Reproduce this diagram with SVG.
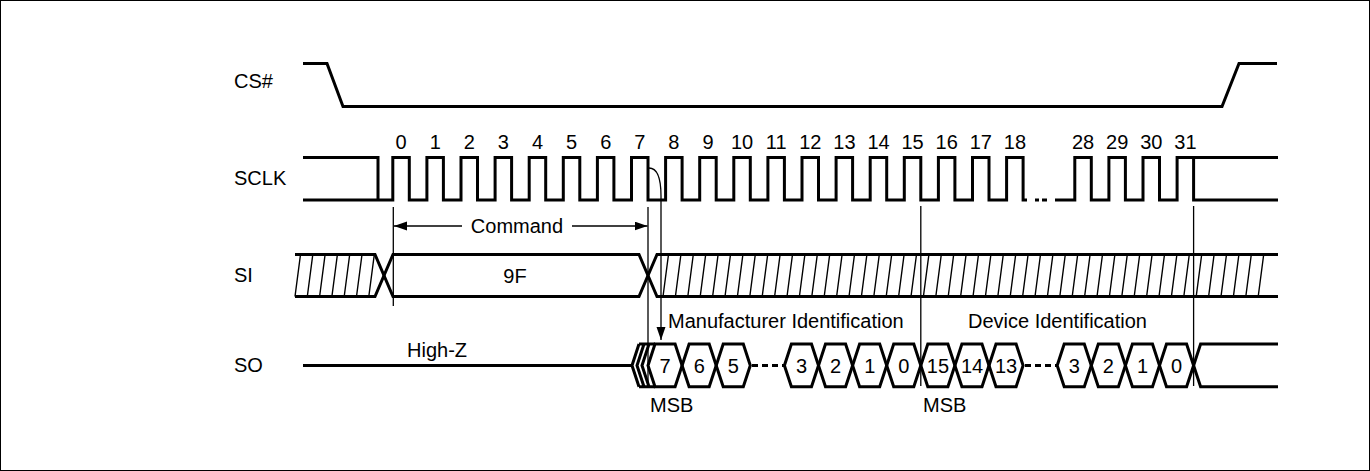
<svg xmlns="http://www.w3.org/2000/svg" width="1370" height="471" viewBox="0 0 1370 471">
<style>
text{font-family:"Liberation Sans",Arial,sans-serif;font-size:20px;fill:#000}
.c{text-anchor:middle}
.n{font-size:19px}
.w{fill:none;stroke:#000;stroke-width:3;stroke-linejoin:miter}
.t{fill:none;stroke:#000;stroke-width:1.3}
.h{fill:none;stroke:#000;stroke-width:1.4}
.hex{fill:none;stroke:#000;stroke-width:3;stroke-linejoin:miter}
.d{fill:none;stroke:#000;stroke-width:3;stroke-dasharray:6 4}
</style>
<defs>
<marker id="ah" markerUnits="userSpaceOnUse" markerWidth="14" markerHeight="10" refX="13" refY="4.5" orient="auto">
<path d="M0,0 L13,4.5 L0,9 z" fill="#000"/>
</marker>
</defs>
<rect x="0.5" y="0.5" width="1369" height="470" fill="#fff" stroke="#000" stroke-width="1"/>

<g id="labels">
<text x="234" y="88">CS#</text>
<text x="234" y="185">SCLK</text>
<text x="234" y="282">SI</text>
<text x="234" y="372">SO</text>
</g>

<g id="cs">
<path class="w" d="M303 63.5 H327 L343 106.5 H1222 L1239 63.5 H1277"/>
</g>

<g id="sclk">
<path class="w" d="M303 157.5 H378 V200"/>
<path class="w" d="M303 200 H392.8 V157.5 H409.3 V200 H426.9 V157.5 H443.4 V200 H461 V157.5 H477.5 V200 H495.1 V157.5 H511.6 V200 H529.2 V157.5 H545.7 V200 H563.3 V157.5 H579.8 V200 H597.4 V157.5 H613.9 V200 H631.5 V157.5 H648 V200 H665.6 V157.5 H682.1 V200 H699.7 V157.5 H716.2 V200 H733.8 V157.5 H750.3 V200 H767.9 V157.5 H784.4 V200 H802 V157.5 H818.5 V200 H836.1 V157.5 H852.6 V200 H870.2 V157.5 H886.7 V200 H904.3 V157.5 H920.8 V200 H938.4 V157.5 H954.9 V200 H972.5 V157.5 H989 V200 H1006.6 V157.5 H1023.1 V200 H1027"/>
<path class="w" d="M1035 200 H1039 M1042 200 H1047"/>
<path class="w" d="M1055 200 H1074.8 V157.5 H1091.3 V200 H1108.9 V157.5 H1125.4 V200 H1143 V157.5 H1159.5 V200 H1177.1 V157.5 H1193.6 V200 H1278"/>
<path class="w" d="M1193.6 157.5 H1278"/>
<g class="c n">
<text x="401" y="149">0</text><text x="435.2" y="149">1</text><text x="469.3" y="149">2</text><text x="503.4" y="149">3</text>
<text x="537.5" y="149">4</text><text x="571.6" y="149">5</text><text x="605.7" y="149">6</text><text x="639.8" y="149">7</text>
<text x="673.9" y="149">8</text><text x="708" y="149">9</text><text x="742" y="149">10</text><text x="776.2" y="149">11</text>
<text x="810.3" y="149">12</text><text x="844.4" y="149">13</text><text x="878.5" y="149">14</text><text x="912.6" y="149">15</text>
<text x="946.7" y="149">16</text><text x="980.8" y="149">17</text><text x="1014.9" y="149">18</text>
<text x="1083" y="149">28</text><text x="1117.2" y="149">29</text><text x="1151.3" y="149">30</text><text x="1185.4" y="149">31</text>
</g>
</g>

<g id="si">
<path class="w" d="M295 254.5 H375 L393 296.5 H639 L657 254.5 H1278"/>
<path class="w" d="M295 296.5 H375 L393 254.5 H639 L657 296.5 H1278"/>
<path class="h" d="M295 296.5 L300.5 254.5 M307.3 296.5 L312.8 254.5 M319.6 296.5 L325.1 254.5 M331.9 296.5 L337.4 254.5 M344.2 296.5 L349.7 254.5 M356.5 296.5 L362 254.5 M368.8 296.5 L374.3 254.5"/>
<path class="h" d="M663 296.5 l5.5 -42 M675.4 296.5 l5.5 -42 M687.8 296.5 l5.5 -42 M700.2 296.5 l5.5 -42 M712.6 296.5 l5.5 -42 M725 296.5 l5.5 -42 M737.4 296.5 l5.5 -42 M749.8 296.5 l5.5 -42 M762.2 296.5 l5.5 -42 M774.6 296.5 l5.5 -42 M787 296.5 l5.5 -42 M799.4 296.5 l5.5 -42 M811.8 296.5 l5.5 -42 M824.2 296.5 l5.5 -42 M836.6 296.5 l5.5 -42 M849 296.5 l5.5 -42 M861.4 296.5 l5.5 -42 M873.8 296.5 l5.5 -42 M886.2 296.5 l5.5 -42 M898.6 296.5 l5.5 -42 M911 296.5 l5.5 -42 M923.4 296.5 l5.5 -42 M935.8 296.5 l5.5 -42 M948.2 296.5 l5.5 -42 M960.6 296.5 l5.5 -42 M973 296.5 l5.5 -42 M985.4 296.5 l5.5 -42 M997.8 296.5 l5.5 -42 M1010.2 296.5 l5.5 -42 M1022.6 296.5 l5.5 -42 M1035 296.5 l5.5 -42 M1047.4 296.5 l5.5 -42 M1059.8 296.5 l5.5 -42 M1072.2 296.5 l5.5 -42 M1084.6 296.5 l5.5 -42 M1097 296.5 l5.5 -42 M1109.4 296.5 l5.5 -42 M1121.8 296.5 l5.5 -42 M1134.2 296.5 l5.5 -42 M1146.6 296.5 l5.5 -42 M1159 296.5 l5.5 -42 M1171.4 296.5 l5.5 -42 M1183.8 296.5 l5.5 -42 M1196.2 296.5 l5.5 -42 M1208.6 296.5 l5.5 -42 M1221 296.5 l5.5 -42 M1233.4 296.5 l5.5 -42 M1245.8 296.5 l5.5 -42 M1258.2 296.5 l5.5 -42"/>
<text class="c" x="515" y="283">9F</text>
</g>

<g id="so">
<path class="w" d="M303 365.5 H632"/>
<path class="hex" d="M639 344 L632 365.5 L639 386.7 M644 344 L637 365.5 L644 386.7 M649 344 L642 365.5 L649 386.7 M639 344 H655 M639 386.7 H655"/>
<path class="hex" d="M648 365.5 L655 344 H675.1 L682.1 365.5 L675.1 386.7 H655 Z"/>
<path class="hex" d="M682.1 365.5 L689.1 344 H709.2 L716.2 365.5 L709.2 386.7 H689.1 Z"/>
<path class="hex" d="M716.2 365.5 L723.2 344 H743.3 L750.3 365.5 L743.3 386.7 H723.2 Z"/>
<path class="d" d="M752 365.5 H784"/>
<path class="hex" d="M784.4 365.5 L791.4 344 H811.5 L818.5 365.5 L811.5 386.7 H791.4 Z"/>
<path class="hex" d="M818.5 365.5 L825.5 344 H845.6 L852.6 365.5 L845.6 386.7 H825.5 Z"/>
<path class="hex" d="M852.6 365.5 L859.6 344 H879.7 L886.7 365.5 L879.7 386.7 H859.6 Z"/>
<path class="hex" d="M886.7 365.5 L893.7 344 H913.8 L920.8 365.5 L913.8 386.7 H893.7 Z"/>
<path class="hex" d="M920.8 365.5 L927.8 344 H947.9 L954.9 365.5 L947.9 386.7 H927.8 Z"/>
<path class="hex" d="M954.9 365.5 L961.9 344 H982 L989 365.5 L982 386.7 H961.9 Z"/>
<path class="hex" d="M989 365.5 L996 344 H1016.1 L1023.1 365.5 L1016.1 386.7 H996 Z"/>
<path class="d" d="M1025 365.5 H1057"/>
<path class="hex" d="M1057.2 365.5 L1064.2 344 H1084.3 L1091.3 365.5 L1084.3 386.7 H1064.2 Z"/>
<path class="hex" d="M1091.3 365.5 L1098.3 344 H1118.4 L1125.4 365.5 L1118.4 386.7 H1098.3 Z"/>
<path class="hex" d="M1125.4 365.5 L1132.4 344 H1152.5 L1159.5 365.5 L1152.5 386.7 H1132.4 Z"/>
<path class="hex" d="M1159.5 365.5 L1166.5 344 H1186.6 L1193.6 365.5 L1186.6 386.7 H1166.5 Z"/>
<path class="hex" d="M1278 344 H1200.6 L1193.6 365.5 L1200.6 386.7 H1278"/>
<g class="c n">
<text x="665" y="372.5">7</text><text x="699.2" y="372.5">6</text><text x="733.3" y="372.5">5</text>
<text x="801.5" y="372.5">3</text><text x="835.6" y="372.5">2</text><text x="869.7" y="372.5">1</text><text x="903.8" y="372.5">0</text>
<text x="937.9" y="372.5">15</text><text x="972" y="372.5">14</text><text x="1006" y="372.5">13</text>
<text x="1074.3" y="372.5">3</text><text x="1108.4" y="372.5">2</text><text x="1142.5" y="372.5">1</text><text x="1176.6" y="372.5">0</text>
</g>
<text x="407" y="357">High-Z</text>
<text x="650" y="412">MSB</text>
<text x="923" y="412">MSB</text>
<text x="668" y="327.5">Manufacturer Identification</text>
<text x="968" y="327.5">Device Identification</text>
</g>

<g id="connectors">
<path class="t" d="M393.3 207 V306"/>
<path class="t" d="M648 207 V386"/>
<path class="t" d="M920.8 206 V386"/>
<path class="t" d="M1193.6 206 V386"/>
<path class="t" d="M462 226 H394" marker-end="url(#ah)"/>
<path class="t" d="M572 226 H647.5" marker-end="url(#ah)"/>
<path class="t" d="M649 168 C657 168 661 176 661 196 V340" marker-end="url(#ah)"/>
<text class="c" x="517" y="233">Command</text>
</g>
</svg>
